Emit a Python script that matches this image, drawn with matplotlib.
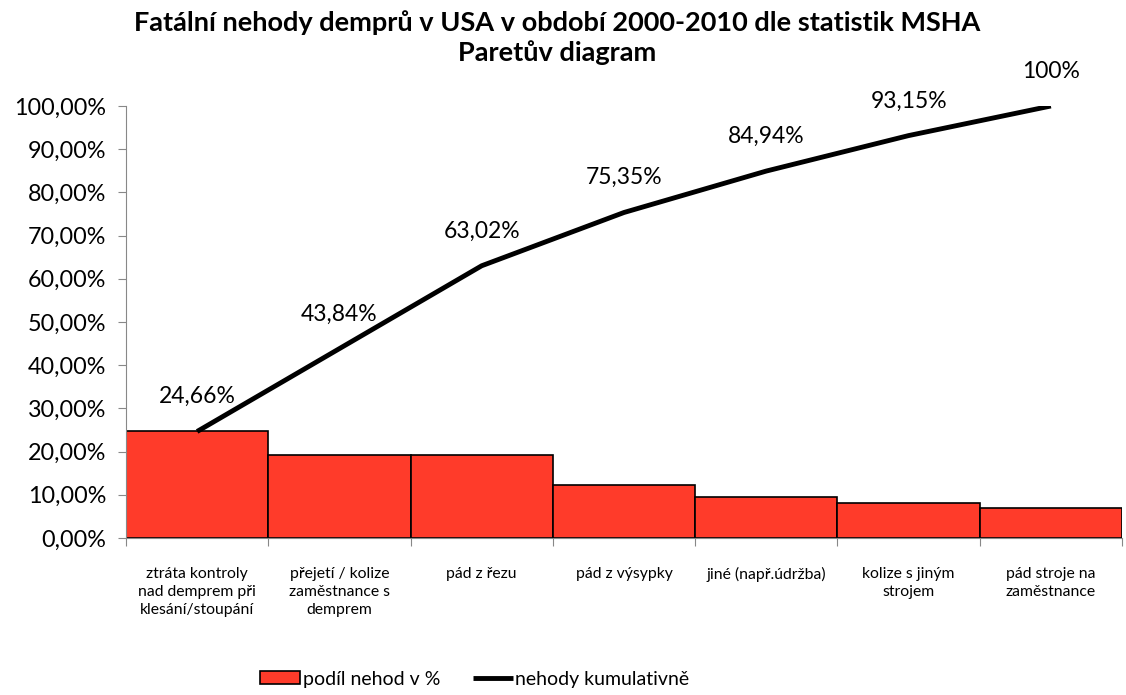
import matplotlib
matplotlib.use('Agg')
import matplotlib.pyplot as plt
import numpy as np
from matplotlib.ticker import FuncFormatter

categories = ["ztráta kontroly\nnad demprem při\nklesání/stoupání",
              "přejetí / kolize\nzaměstnance s\ndemprem",
              "pád z řezu",
              "pád z výsypky",
              "jiné (např.údržba)",
              "kolize s jiným\nstrojem",
              "pád stroje na\nzaměstnance"]
share = [24.66, 19.18, 19.18, 12.33, 9.59, 8.21, 6.85]
cumulative = [24.66, 43.84, 63.02, 75.35, 84.94, 93.15, 100.0]
cum_labels = ["24,66%", "43,84%", "63,02%", "75,35%", "84,94%", "93,15%", "100%"]

plt.rcParams['font.family'] = ['Lato', 'DejaVu Sans']

fig = plt.figure(figsize=(11.26, 6.95), dpi=100)
ax = fig.add_axes([126/1126, 1-538/695, (1122-126)/1126, (538-106)/695])

x = np.arange(len(categories))
bars = ax.bar(x, share, width=1.0, color='#FF3B2A', edgecolor='black', linewidth=1.2,
              label='podíl nehod v %', zorder=2)
line, = ax.plot(x, cumulative, color='black', linewidth=3.5, label='nehody kumulativně',
                solid_capstyle='butt', zorder=3)
for xi, yi, t in zip(x, cumulative, cum_labels):
    ax.annotate(t, (xi, yi), xytext=(0, 25), textcoords='offset points',
                ha='center', va='center', fontsize=16.5)

ax.set_xlim(-0.5, len(categories) - 0.5)
ax.set_ylim(0, 100)
ax.set_yticks(np.arange(0, 101, 10))
ax.yaxis.set_major_formatter(FuncFormatter(lambda v, p: f"{v:.2f}".replace('.', ',') + '%'))
ax.tick_params(axis='y', labelsize=16.8, length=6, color='#888888', direction='out', pad=8)

ax.set_xticks(np.arange(-0.5, len(categories), 1.0))
ax.set_xticklabels([])
ax.tick_params(axis='x', length=6, color='#888888', direction='out')
for xi, c in zip(x, categories):
    ax.text(xi, -6.8, c, ha='center', va='top', fontsize=11.3, linespacing=1.35)

for s in ['top', 'right']:
    ax.spines[s].set_visible(False)
for s in ['left', 'bottom']:
    ax.spines[s].set_color('#888888')

fig.suptitle("Fatální nehody demprů v USA v období 2000-2010 dle statistik MSHA\nParetův diagram",
             x=0.495, y=0.985, fontsize=19.5, fontweight='bold', linespacing=1.25)

fig.legend([bars, line], ['podíl nehod v %', 'nehody kumulativně'],
           loc='center', bbox_to_anchor=(475/1126, 1-679/695), ncol=2, frameon=False,
           fontsize=14, handlelength=2.05, handleheight=0.62, handletextpad=0.15,
           columnspacing=1.65)

fig.savefig('out.png', dpi=100)
